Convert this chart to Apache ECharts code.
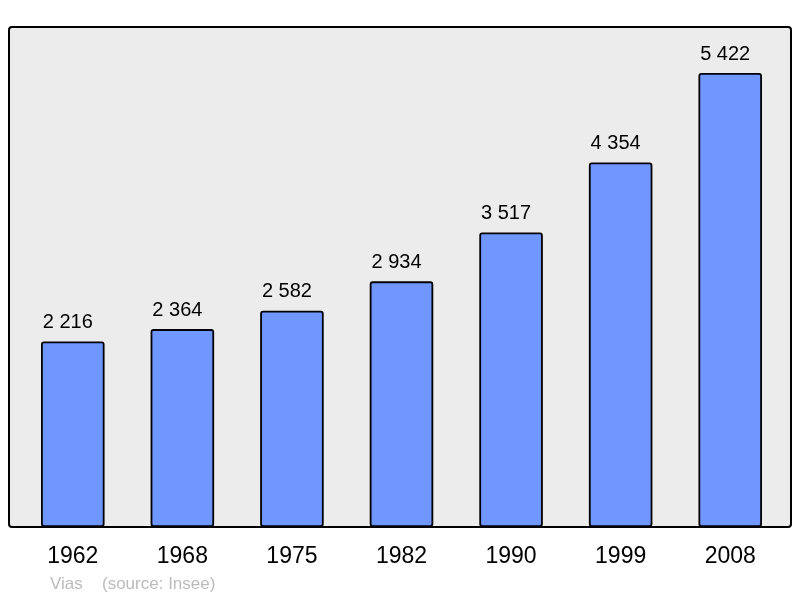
<!DOCTYPE html>
<html>
<head>
<meta charset="utf-8">
<script src="https://cdn.jsdelivr.net/npm/echarts@6/dist/echarts.min.js"></script>
<style>
  html, body { margin: 0; padding: 0; background: #fff; }
  #chart { width: 800px; height: 598px; }
</style>
</head>
<body>
<div id="chart"></div>
<script>
var years = ["1962", "1968", "1975", "1982", "1990", "1999", "2008"];
var population = [2216, 2364, 2582, 2934, 3517, 4354, 5422];

(function () {
  var fmt = function (v) {
    return String(v).replace(/\B(?=(\d{3})+(?!\d))/g, " ");
  };
  var myChart = echarts.init(document.getElementById("chart"));
  var option = {
    animation: false,
    graphic: [
      {
        type: "rect",
        z: -10,
        shape: { x: 9, y: 27, width: 782, height: 500, r: 3 },
        style: { fill: "#ececec", stroke: "#000", lineWidth: 2 },
      },
      {
        type: "text",
        left: 50,
        top: 576,
        style: { text: "Vias", fill: "#bbbbbb", font: "17px 'Liberation Sans', Arial, sans-serif" },
      },
      {
        type: "text",
        left: 102,
        top: 576,
        style: { text: "(source: Insee)", fill: "#bbbbbb", font: "17px 'Liberation Sans', Arial, sans-serif" },
      },
    ],
    grid: { left: 18, top: 27, width: 767, height: 500, containLabel: false },
    xAxis: {
      type: "category",
      data: years,
      axisLine: { show: false },
      axisTick: { show: false },
      axisLabel: {
        color: "#000",
        fontSize: 23,
        margin: 18,
        fontFamily: "'Liberation Sans', Arial, sans-serif",
      },
    },
    yAxis: {
      type: "value",
      min: 0,
      max: 5972,
      show: false,
      splitLine: { show: false },
    },
    series: [
      {
        type: "bar",
        data: population,
        barWidth: "58%",
        itemStyle: {
          color: "#7096ff",
          borderColor: "#000",
          borderWidth: 1.8,
          borderRadius: 2,
        },
        label: {
          show: true,
          position: "top",
          distance: 9,
          offset: [-5, 0],
          color: "#000",
          fontSize: 20,
          fontFamily: "'Liberation Sans', Arial, sans-serif",
          formatter: function (p) {
            return fmt(p.value);
          },
        },
      },
    ],
  };
  myChart.setOption(option);
})();
</script>
</body>
</html>
